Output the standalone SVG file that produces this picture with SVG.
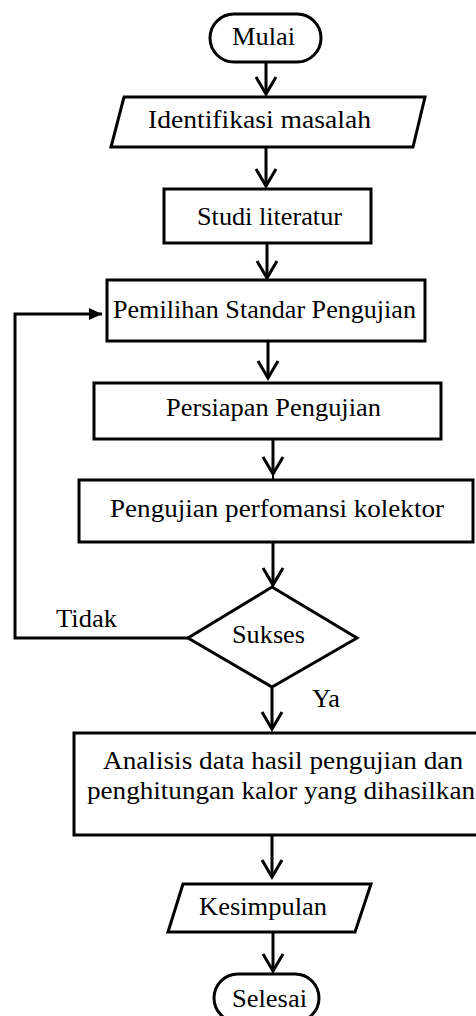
<svg xmlns="http://www.w3.org/2000/svg" width="476" height="1016" viewBox="0 0 476 1016">
<style>
.s{fill:#fff;stroke:#000;stroke-width:3}
.t{font-family:"Liberation Serif","Times New Roman",serif;font-size:25px;fill:#000}
.c{fill:none;stroke:#000;stroke-width:3}
</style>
<defs>
<marker id="v" markerUnits="userSpaceOnUse" markerWidth="30" markerHeight="30" refX="0" refY="0" orient="auto" overflow="visible">
<path d="M-17,-10 L0,0 L-17,10" fill="none" stroke="#000" stroke-width="3"/>
</marker>
<marker id="f" markerUnits="userSpaceOnUse" markerWidth="20" markerHeight="20" refX="0" refY="0" orient="auto" overflow="visible">
<path d="M-13,-6 L0,0 L-13,6 Z" fill="#000"/>
</marker>
</defs>
<rect width="476" height="1016" fill="#fff"/>
<g id="connectors">
<line class="c" x1="266" y1="62" x2="266" y2="94" marker-end="url(#v)"/>
<line class="c" x1="266" y1="147" x2="266" y2="186" marker-end="url(#v)"/>
<line class="c" x1="267" y1="243" x2="267" y2="278" marker-end="url(#v)"/>
<line class="c" x1="268" y1="341" x2="268" y2="378" marker-end="url(#v)"/>
<line class="c" x1="273" y1="439" x2="273" y2="474" marker-end="url(#v)"/>
<line x1="273" y1="474" x2="273" y2="480" stroke="#000" stroke-width="2"/>
<line class="c" x1="273" y1="542" x2="273" y2="585" marker-end="url(#v)"/>
<line class="c" x1="272" y1="687" x2="272" y2="729" marker-end="url(#v)"/>
<line class="c" x1="272" y1="835" x2="272" y2="877" marker-end="url(#v)"/>
<line class="c" x1="273" y1="932" x2="273" y2="971" marker-end="url(#v)"/>
<polyline class="c" points="188,638 15,638 15,314 102,314" marker-end="url(#f)"/>
<text class="t" x="56" y="627" textLength="61" lengthAdjust="spacingAndGlyphs">Tidak</text>
<text class="t" x="312" y="707" textLength="28" lengthAdjust="spacingAndGlyphs">Ya</text>
</g>
<g id="mulai">
<rect class="s" x="210" y="14" width="111" height="48" rx="24"/>
<text class="t" x="232" y="45" textLength="63" lengthAdjust="spacingAndGlyphs">Mulai</text>
</g>
<g id="identifikasi">
<polygon class="s" points="124,97 425,97 413,147 111,147"/>
<text class="t" x="148" y="128" textLength="223" lengthAdjust="spacingAndGlyphs">Identifikasi masalah</text>
</g>
<g id="studi">
<rect class="s" x="164" y="189" width="207" height="54"/>
<text class="t" x="197" y="225" textLength="145" lengthAdjust="spacingAndGlyphs">Studi literatur</text>
</g>
<g id="pemilihan">
<rect class="s" x="107" y="280" width="318" height="61"/>
<text class="t" x="113" y="318" textLength="303" lengthAdjust="spacingAndGlyphs">Pemilihan Standar Pengujian</text>
</g>
<g id="persiapan">
<rect class="s" x="94" y="383" width="347" height="56"/>
<text class="t" x="166" y="416" textLength="215" lengthAdjust="spacingAndGlyphs">Persiapan Pengujian</text>
</g>
<g id="pengujian">
<rect class="s" x="79" y="480" width="394" height="62"/>
<text class="t" x="110" y="517" textLength="334" lengthAdjust="spacingAndGlyphs">Pengujian perfomansi kolektor</text>
</g>
<g id="sukses">
<polygon class="s" points="272,587 357,638 272,687 188,638"/>
<text class="t" x="232" y="643" textLength="73" lengthAdjust="spacingAndGlyphs">Sukses</text>
</g>
<g id="analisis">
<rect class="s" x="74" y="733" width="410" height="102"/>
<text class="t" x="103" y="769" textLength="360" lengthAdjust="spacingAndGlyphs">Analisis data hasil pengujian dan</text>
<text class="t" x="87" y="799" textLength="388" lengthAdjust="spacingAndGlyphs">penghitungan kalor yang dihasilkan</text>
</g>
<g id="kesimpulan">
<polygon class="s" points="183,884 371,884 355,932 168,932"/>
<text class="t" x="199" y="915" textLength="128" lengthAdjust="spacingAndGlyphs">Kesimpulan</text>
</g>
<g id="selesai">
<rect class="s" x="214" y="974" width="105" height="48" rx="24"/>
<text class="t" x="232" y="1007" textLength="75" lengthAdjust="spacingAndGlyphs">Selesai</text>
</g>
</svg>
